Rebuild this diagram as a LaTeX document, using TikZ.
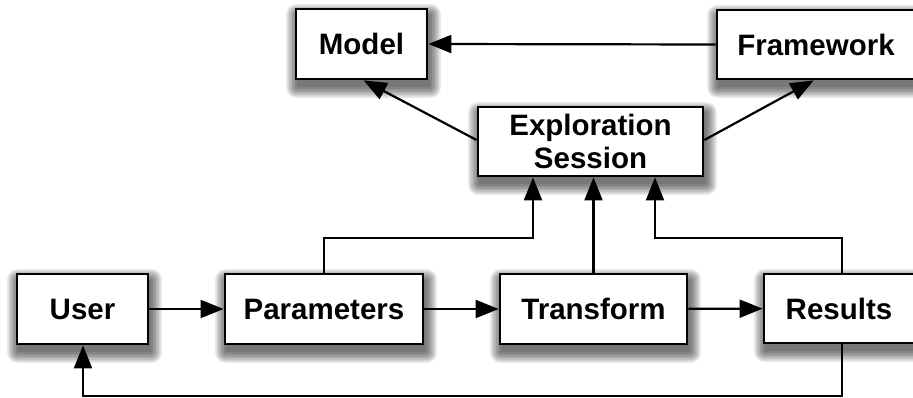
\documentclass[tikz,border=0pt]{standalone}
\usepackage{fontspec}
\setmainfont{Liberation Sans}
\usetikzlibrary{arrows.meta,calc,backgrounds}
\begin{document}
\begin{tikzpicture}[x=1pt,y=-1pt,
  box/.style={draw=black, line width=2.8pt, fill=white, inner sep=0pt,
    font=\fontsize{29.5}{33}\selectfont\bfseries, align=center},
  conn/.style={line width=2.2pt, -{Triangle[length=23pt,width=18pt]}},
  shadowlayer/.style={fill=black, fill opacity=0.09}]
\useasboundingbox (0,0) rectangle (913,398);
\node[box, minimum width=131pt, minimum height=70pt] (M) at (361.5,44) {Model};
\node[box, minimum width=198pt, minimum height=69pt] (F) at (816,44.5) {Framework};
\node[box, minimum width=225pt, minimum height=69pt] (E) at (590.5,141.5) {Exploration\\Session};
\node[box, minimum width=131pt, minimum height=70pt] (U) at (82.5,309) {User};
\node[box, minimum width=198pt, minimum height=70pt] (P) at (324,309) {Parameters};
\node[box, minimum width=187pt, minimum height=70pt] (T) at (593.5,309) {Transform};
\node[box, minimum width=150pt, minimum height=69pt] (R) at (839,308.5) {Results};
\begin{pgfonlayer}{background}
\foreach \n in {M,F,E,U,P,T,R}{
  \foreach \r in {0,1.5,...,10.5}{
    \fill[shadowlayer, rounded corners=\r pt]
      ($(\n.north west)+(2-\r,7-\r)$) rectangle ($(\n.south east)+(2+\r,7+\r)$);
  }
}
\end{pgfonlayer}
\coordinate (pc) at (324,238);
\coordinate (rc) at (842,238);
\coordinate (bl) at (83,396);
\coordinate (br) at (842,396);
\draw[conn] (F.west) -- (M.east);
\draw[conn] ($(E.west)+(0,-1.5)$) -- ($(M.south west)+(69,0)$);
\draw[conn] ($(E.east)+(0,-1.5)$) -- ($(F.south west)+(98,0)$);
\draw[conn] (U) -- (P);
\draw[conn] (P) -- (T);
\draw[conn] (T) -- (R);
\draw[conn] (P.north) -- (pc) -| ($(E.south)+(-57.5,0)$);
\draw[conn] (T.north) -- (T.north |- E.south);
\draw[conn] ($(R.north)+(3,0)$) -- (rc) -| ($(E.south)+(64.5,0)$);
\draw[conn] ($(R.south)+(3,0)$) -- (br) -- (bl) -- (U.south -| bl);
\end{tikzpicture}
\end{document}
